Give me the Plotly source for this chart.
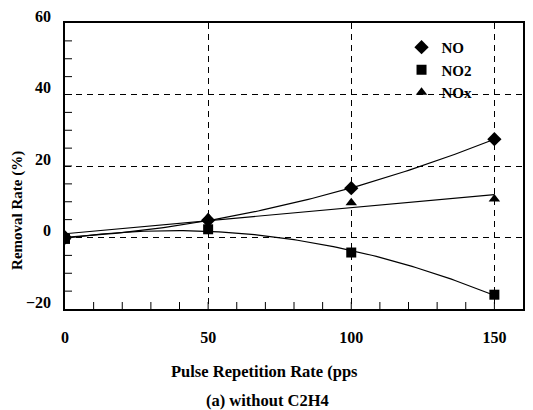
import numpy as np
import plotly.graph_objects as go

# Data
pulse_rate = [0, 50, 100, 150]
no_removal = [0.0, 4.8, 13.8, 27.5]
no2_removal = [-0.4, 2.3, -4.2, -16.0]
nox_removal = [0.0, 5.6, 9.7, 10.8]

x_range = [0, 160]
y_range = [-20, 60]
x_tick_step = 50
y_tick_step = 20
x_minor_step = 10
y_minor_step = 5

FONT = "Liberation Serif"

fig = go.Figure()

xs = np.linspace(0, 150, 121)
for vals, deg in [(no_removal, 2), (no2_removal, 2), (nox_removal, 1)]:
    coef = np.polyfit(pulse_rate, vals, deg)
    fig.add_trace(go.Scatter(x=xs, y=np.polyval(coef, xs), mode="lines",
                             line=dict(color="black", width=1.2),
                             showlegend=False, hoverinfo="skip"))

for name, vals, sym, sz in [("NO", no_removal, "diamond", 11),
                            ("NO2", no2_removal, "square", 10),
                            ("NOx", nox_removal, "triangle-up", 10)]:
    fig.add_trace(go.Scatter(x=pulse_rate, y=vals, mode="markers", name=name,
                             marker=dict(symbol=sym, color="black", size=sz,
                                         line=dict(width=0))))

# inside tick marks: line markers centred on the axis, clipped to the plot area
xt = np.arange(x_range[0] + x_minor_step, x_range[1], x_minor_step)
yt = np.arange(y_range[0] + y_minor_step, y_range[1], y_minor_step)
fig.add_trace(go.Scatter(x=xt, y=[y_range[0]] * len(xt), mode="markers",
                         marker=dict(symbol="line-ns", size=10,
                                     line=dict(width=1, color="black")),
                         showlegend=False, hoverinfo="skip", cliponaxis=True))
fig.add_trace(go.Scatter(x=[x_range[0]] * len(yt), y=yt, mode="markers",
                         marker=dict(symbol="line-ew", size=10,
                                     line=dict(width=1, color="black")),
                         showlegend=False, hoverinfo="skip", cliponaxis=True))

W, H = 533, 410
L, R, T, B = 65, 8, 21, 101
pw, ph = W - L - R, H - T - B
def px(xp):
    return (xp - L) / pw
def py(yp):
    return 1 - (yp - T) / ph

fig.update_layout(
    width=W, height=H,
    margin=dict(l=L, r=R, t=T, b=B),
    paper_bgcolor="white", plot_bgcolor="white",
    font=dict(family=FONT, color="black", size=15),
    legend=dict(x=px(403), y=py(29),
                xanchor="left", yanchor="top",
                bgcolor="rgba(0,0,0,0)", tracegroupgap=0,
                itemwidth=30,
                font=dict(family=FONT, size=15, weight="bold")),
    showlegend=True,
    xaxis=dict(
        range=x_range, tick0=0, dtick=x_tick_step,
        showline=True, linecolor="black", linewidth=1.6, mirror=True,
        ticks="",
        showgrid=True, gridcolor="black", gridwidth=1, griddash="6px,5px",
        zeroline=False, ticklabelstandoff=13,
        tickfont=dict(family=FONT, size=16, weight="bold"),
    ),
    yaxis=dict(
        range=y_range, tick0=0, dtick=y_tick_step,
        showline=True, linecolor="black", linewidth=1.6, mirror=True,
        ticks="",
        showgrid=True, gridcolor="black", gridwidth=1, griddash="6px,5px",
        zeroline=False, ticklabelstandoff=9, ticklabelshift=-7,
        tickfont=dict(family=FONT, size=16, weight="bold"),
    ),
)

fig.add_annotation(text="Pulse Repetition Rate (pps", xref="paper", yref="paper",
                   x=px(265), y=py(372), showarrow=False, xanchor="center", yanchor="middle",
                   font=dict(family=FONT, size=16.5, weight="bold"))
fig.add_annotation(text="(a) without C2H4", xref="paper", yref="paper",
                   x=px(268), y=py(401), showarrow=False, xanchor="center", yanchor="middle",
                   font=dict(family=FONT, size=16.5, weight="bold"))
fig.add_annotation(text="Removal Rate (%)", xref="paper", yref="paper",
                   x=px(17), y=py(210), showarrow=False, xanchor="center", yanchor="middle",
                   textangle=-90,
                   font=dict(family=FONT, size=15, weight="bold"))

fig.write_html("out.html")
